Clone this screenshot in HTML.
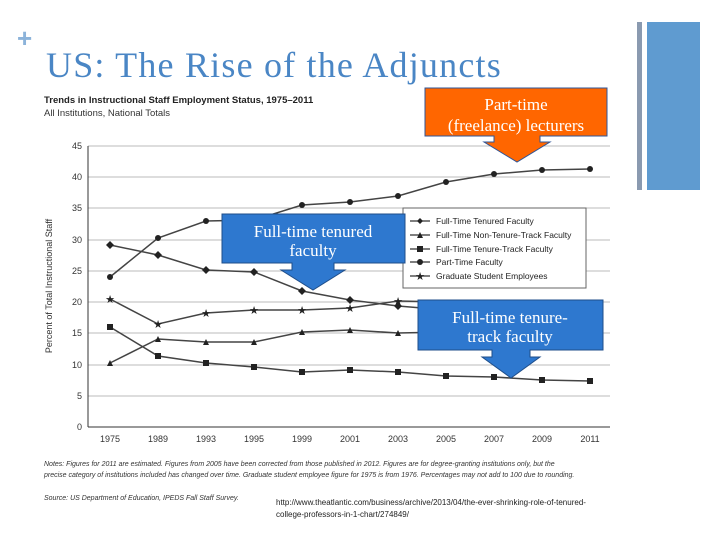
<!DOCTYPE html>
<html><head><meta charset="utf-8"><style>
body{margin:0;width:720px;height:540px;background:#fff;overflow:hidden;position:relative;font-family:"Liberation Sans",sans-serif}
.t{position:absolute}
</style></head><body>
<div class="t" style="left:637px;top:22px;width:5px;height:168px;background:#8a9ab0"></div>
<div class="t" style="left:647px;top:22px;width:53px;height:168px;background:#5f9bd0"></div>
<div class="t" style="left:17px;top:28px;color:#8cb3da;font-size:26px;font-weight:bold;line-height:20px">+</div>
<div class="t" style="left:46px;top:44px;color:#4a86c5;font-family:'Liberation Serif',serif;font-size:36px;line-height:42px;letter-spacing:1.2px;white-space:nowrap">US: The Rise of the Adjuncts</div>
<div class="t" style="left:44px;top:95px;font-size:9.5px;font-weight:bold;color:#222">Trends in Instructional Staff Employment Status, 1975–2011</div>
<div class="t" style="left:44px;top:108px;font-size:9.5px;color:#333">All Institutions, National Totals</div>
<svg class="t" style="left:0;top:0" width="720" height="540" font-family="Liberation Sans, sans-serif">
<g stroke="#bbb" stroke-width="1">
<line x1="88" x2="610" y1="146" y2="146"/><line x1="88" x2="610" y1="177" y2="177"/><line x1="88" x2="610" y1="208" y2="208"/><line x1="88" x2="610" y1="240" y2="240"/><line x1="88" x2="610" y1="271" y2="271"/><line x1="88" x2="610" y1="302" y2="302"/><line x1="88" x2="610" y1="333" y2="333"/><line x1="88" x2="610" y1="365" y2="365"/><line x1="88" x2="610" y1="396" y2="396"/>
</g>
<line x1="88" x2="610" y1="427" y2="427" stroke="#333"/>
<line x1="88" x2="88" y1="146" y2="427" stroke="#333"/>
<g font-size="9" fill="#333" text-anchor="end">
<text x="82" y="149">45</text><text x="82" y="180">40</text><text x="82" y="211">35</text><text x="82" y="243">30</text><text x="82" y="274">25</text><text x="82" y="305">20</text><text x="82" y="336">15</text><text x="82" y="368">10</text><text x="82" y="399">5</text><text x="82" y="430">0</text>
</g>
<g font-size="9" fill="#333" text-anchor="middle">
<text x="110" y="442">1975</text><text x="158" y="442">1989</text><text x="206" y="442">1993</text><text x="254" y="442">1995</text><text x="302" y="442">1999</text><text x="350" y="442">2001</text><text x="398" y="442">2003</text><text x="446" y="442">2005</text><text x="494" y="442">2007</text><text x="542" y="442">2009</text><text x="590" y="442">2011</text>
</g>
<text transform="translate(52,286) rotate(-90)" font-size="9" fill="#333" text-anchor="middle">Percent of Total Instructional Staff</text>
<g fill="none" stroke="#444" stroke-width="1.5">
<polyline points="110,245 158,255 206,270 254,272 302,291 350,300 398,306 446,310 494,315 542,320 590,323"/>
<polyline points="110,363 158,339 206,342 254,342 302,332 350,330 398,333 446,332 494,330 542,328 590,327"/>
<polyline points="110,327 158,356 206,363 254,367 302,372 350,370 398,372 446,376 494,377 542,380 590,381"/>
<polyline points="110,277 158,238 206,221 254,220 302,205 350,202 398,196 446,182 494,174 542,170 590,169"/>
<polyline points="110,299 158,324 206,313 254,310 302,310 350,308 398,301 446,302 494,303 542,303 590,303"/>
</g>
<g fill="#222">
<circle cx="110" cy="277" r="3"/><circle cx="158" cy="238" r="3"/><circle cx="206" cy="221" r="3"/><circle cx="254" cy="220" r="3"/><circle cx="302" cy="205" r="3"/><circle cx="350" cy="202" r="3"/><circle cx="398" cy="196" r="3"/><circle cx="446" cy="182" r="3"/><circle cx="494" cy="174" r="3"/><circle cx="542" cy="170" r="3"/><circle cx="590" cy="169" r="3"/>
<rect x="107" y="324" width="6" height="6"/><rect x="155" y="353" width="6" height="6"/><rect x="203" y="360" width="6" height="6"/><rect x="251" y="364" width="6" height="6"/><rect x="299" y="369" width="6" height="6"/><rect x="347" y="367" width="6" height="6"/><rect x="395" y="369" width="6" height="6"/><rect x="443" y="373" width="6" height="6"/><rect x="491" y="374" width="6" height="6"/><rect x="539" y="377" width="6" height="6"/><rect x="587" y="378" width="6" height="6"/>
<polygon points="110,360 113,366 107,366"/><polygon points="158,336 161,342 155,342"/><polygon points="206,339 209,345 203,345"/><polygon points="254,339 257,345 251,345"/><polygon points="302,329 305,335 299,335"/><polygon points="350,327 353,333 347,333"/><polygon points="398,330 401,336 395,336"/>
<g font-size="11" text-anchor="middle"><text x="110" y="303">★</text><text x="158" y="328">★</text><text x="206" y="317">★</text><text x="254" y="314">★</text><text x="302" y="314">★</text><text x="350" y="312">★</text><text x="398" y="305">★</text></g>
<polygon points="110,241 114,245 110,249 106,245"/><polygon points="158,251 162,255 158,259 154,255"/><polygon points="206,266 210,270 206,274 202,270"/><polygon points="254,268 258,272 254,276 250,272"/><polygon points="302,287 306,291 302,295 298,291"/><polygon points="350,296 354,300 350,304 346,300"/><polygon points="398,302 402,306 398,310 394,306"/>
</g>
<rect x="403" y="208" width="183" height="80" fill="#fff" stroke="#666"/>
<g stroke="#333" stroke-width="1.2"><line x1="410" x2="430" y1="221" y2="221"/><line x1="410" x2="430" y1="235" y2="235"/><line x1="410" x2="430" y1="249" y2="249"/><line x1="410" x2="430" y1="262" y2="262"/><line x1="410" x2="430" y1="276" y2="276"/></g>
<g fill="#222"><polygon points="420,218 423,221 420,224 417,221"/><polygon points="420,232 423,238 417,238"/><rect x="417" y="246" width="6" height="6"/><circle cx="420" cy="262" r="3"/><text x="420" y="280" font-size="11" text-anchor="middle">★</text></g>
<g font-size="8.5" fill="#222"><text x="436" y="224">Full-Time Tenured Faculty</text><text x="436" y="238">Full-Time Non-Tenure-Track Faculty</text><text x="436" y="252">Full-Time Tenure-Track Faculty</text><text x="436" y="265">Part-Time Faculty</text><text x="436" y="279">Graduate Student Employees</text></g>
<path d="M425,88 H607 V136 H540 V142 H550 L517,162 L484,142 H494 V136 H425 Z" fill="#ff6600" stroke="#2f5597" stroke-width="1"/>
<path d="M222,214 H405 V263 H334 V270 H345 L313,290 L281,270 H292 V263 H222 Z" fill="#2e78cf" stroke="#1f4e8a" stroke-width="1"/>
<path d="M418,300 H603 V350 H530 V357 H540 L511,378 L482,357 H492 V350 H418 Z" fill="#2e78cf" stroke="#1f4e8a" stroke-width="1"/>
<g font-family="Liberation Serif, serif" fill="#fff" text-anchor="middle">
<text x="516" y="110" font-size="17">Part-time</text><text x="516" y="131" font-size="17">(freelance) lecturers</text>
<text x="313" y="237" font-size="17">Full-time tenured</text><text x="313" y="256" font-size="17">faculty</text>
<text x="510" y="323" font-size="17">Full-time tenure-</text><text x="510" y="342" font-size="17">track faculty</text>
</g>
<g font-size="7" fill="#333" font-style="italic">
<text x="44" y="466">Notes: Figures for 2011 are estimated. Figures from 2005 have been corrected from those published in 2012. Figures are for degree-granting institutions only, but the</text>
<text x="44" y="477">precise category of institutions included has changed over time. Graduate student employee figure for 1975 is from 1976. Percentages may not add to 100 due to rounding.</text>
<text x="44" y="500">Source: US Department of Education, IPEDS Fall Staff Survey.</text>
</g>
<g font-size="8" fill="#222"><text x="276" y="505">http://www.theatlantic.com/business/archive/2013/04/the-ever-shrinking-role-of-tenured-</text><text x="276" y="517">college-professors-in-1-chart/274849/</text></g>
</svg>
</body></html>
